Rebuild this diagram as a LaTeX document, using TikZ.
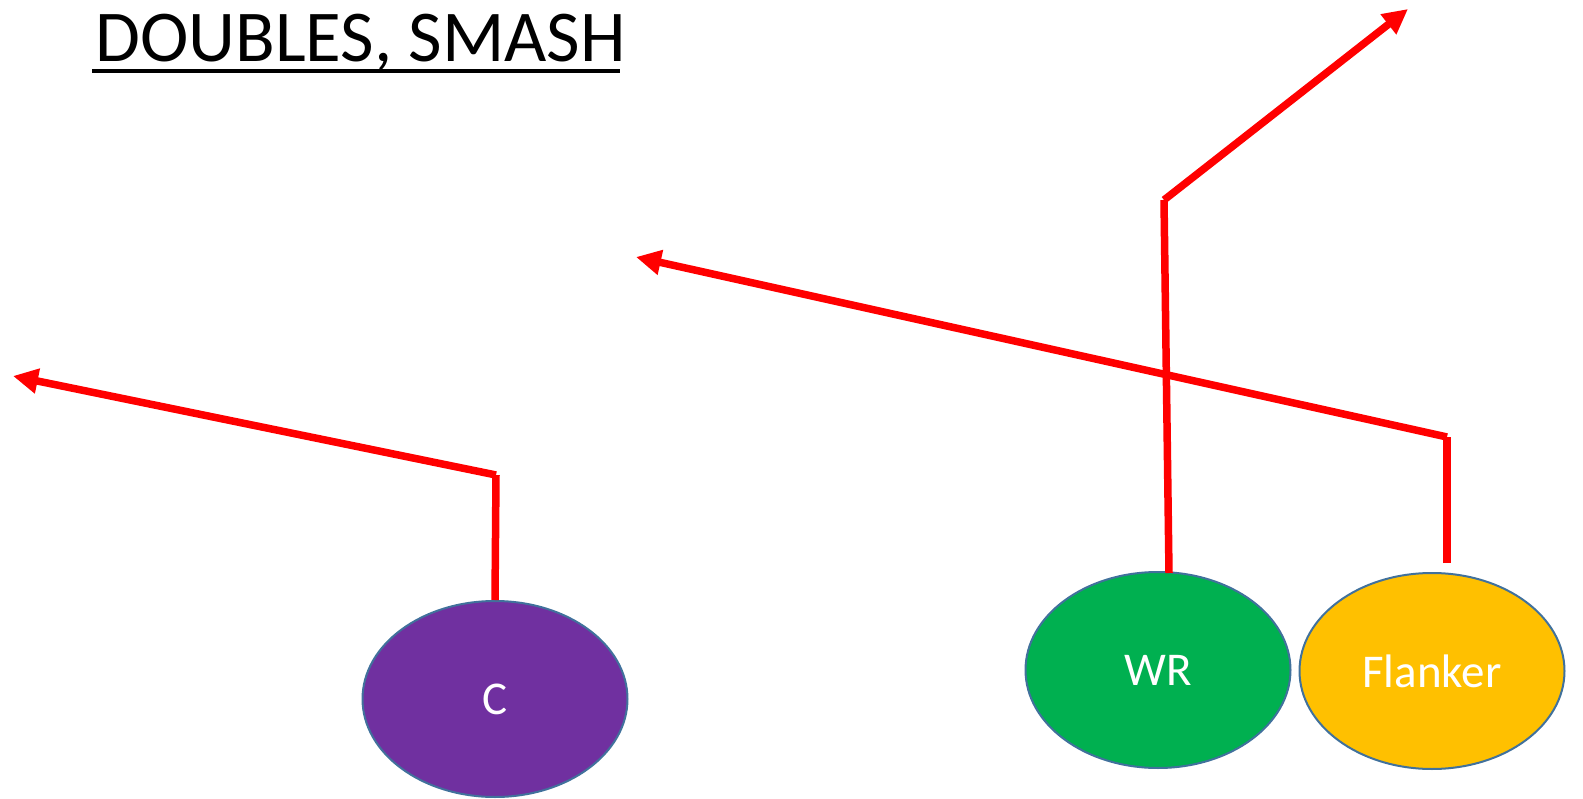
\documentclass[tikz,border=0pt]{standalone}
\usepackage{fontspec}
\setmainfont{Carlito}
\usetikzlibrary{arrows.meta,shapes.geometric}
\definecolor{cpurple}{HTML}{7030A0}
\definecolor{cgreen}{HTML}{00B050}
\definecolor{cyellow}{HTML}{FFC000}
\definecolor{cborder}{HTML}{41719C}
\begin{document}
\begin{tikzpicture}[x=1pt,y=-1pt,
  player/.style={ellipse, draw=cborder, line width=2pt, minimum width=265pt, minimum height=196pt, inner sep=0pt, text=white, font=\fontsize{47}{50}\selectfont},
  route/.style={draw=red, line width=7.5pt},
  routearrow/.style={route, -{Triangle[length=25pt,width=24pt]}},
]
\useasboundingbox (0,0) rectangle (1583,799);
\node[anchor=base west, inner sep=0pt, font=\fontsize{73}{80}\selectfont] (title) at (95,62) {DOUBLES, SMASH};
\draw[line width=3.5pt] (92,71) -- (620,71);
\node[player, fill=cpurple] (c) at (495,699) {C};
\node[player, fill=cgreen] (wr) at (1158,670) {WR};
\node[player, fill=cyellow] (fl) at (1432,671) {Flanker};
\coordinate (c1) at (496,475);
\coordinate (c2) at (13,376);
\coordinate (w0) at (1169,573);
\coordinate (w1) at (1164,200);
\coordinate (w2) at (1408,9);
\coordinate (f0) at (1447,563);
\coordinate (f1) at (1447,437);
\coordinate (f2) at (636,257);
\draw[route] (c.north) -- (c1);
\draw[routearrow] (c1) -- (c2);
\draw[route] (w0) -- (w1);
\draw[routearrow] (w1) -- (w2);
\draw[route] (f0) -- (f1);
\draw[routearrow] (f1) -- (f2);
\end{tikzpicture}
\end{document}
